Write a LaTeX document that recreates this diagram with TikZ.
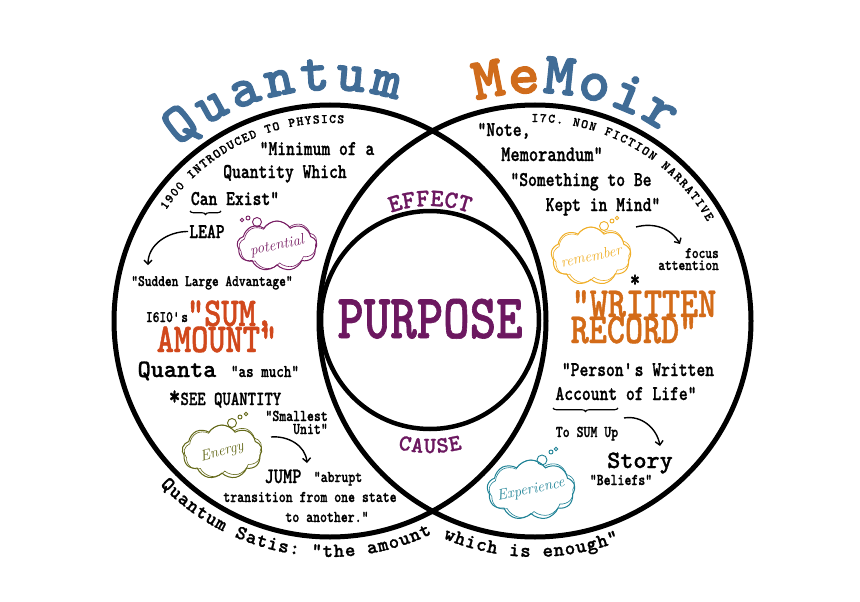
\documentclass[tikz,border=0pt]{standalone}
\usepackage{fontspec}
\usetikzlibrary{shapes.symbols,decorations.text,decorations.pathreplacing,arrows.meta}
\newfontfamily\twA{lmmonolt10-bold.otf}[FakeStretch=0.8, FakeBold=1]
\newfontfamily\twN{lmmonolt10-bold.otf}[FakeBold=1]
\newfontfamily\twT{lmmonolt10-bold.otf}[FakeBold=2]
\newcommand\setfs[1]{\fontsize{#1}{#1}\selectfont}
\newcommand\fbody{\twA\setfs{21}}
\newcommand\fsmall{\twA\setfs{16.5}}
\newcommand\fhand{\itshape\setfs{15}}
\definecolor{qblue}{RGB}{64,108,150}
\definecolor{morange}{RGB}{208,108,28}
\definecolor{purp}{RGB}{108,24,96}
\definecolor{sumred}{RGB}{209,72,28}
\definecolor{recor}{RGB}{211,107,24}
\definecolor{potcol}{RGB}{120,30,100}
\definecolor{enecol}{RGB}{100,105,25}
\definecolor{remcol}{RGB}{240,175,40}
\definecolor{expcol}{RGB}{30,130,150}
\begin{document}
\begin{tikzpicture}[x=1pt,y=1pt,
  txt/.style={inner sep=1pt, anchor=base},
  txtr/.style={inner sep=1pt, anchor=base east},
  bigc/.style={circle, draw, line width=5pt, inner sep=0pt, outer sep=0pt},
  cloudy/.style={cloud, draw=#1, cloud puffs=9, cloud puff arc=115, cloud ignores aspect, inner sep=0pt, line width=1pt},
  bub/.style={circle, draw=#1, line width=0.9pt, inner sep=0pt},
  arr/.style={line width=1.4pt, -{Straight Barb[length=4pt,width=8pt]}},
  brc/.style={line width=1.1pt, decorate, decoration={brace, mirror, amplitude=3.5pt}},
  arctext/.style={decorate, decoration={text along path, text={#1}, text align={fit to path}}}
  ]
\fill[white] (0,0) rectangle (860,-602);
\useasboundingbox (0,0) rectangle (860,-602);

% circles
\node[bigc, minimum size=432pt] (lc) at (330,-321) {};
\node[bigc, minimum size=432pt] (rc) at (535,-321) {};
\node[bigc, line width=4.5pt, minimum size=218pt] (ic) at (430,-320) {};

% titles
\path[arctext={|\twT\setfs{56}\color{qblue}|Quantum}]
  ([shift={(131:231)}]330,-321) arc[start angle=131, end angle=73, radius=231];
\path[arctext={|\twT\setfs{60}\color{morange}|Me|\twT\setfs{60}\color{qblue}|Moir}]
  ([shift={(105:228)}]535,-321) arc[start angle=105, end angle=55, radius=228];

% arc texts inside
\path[arctext={|\twN\setfs{13}|1900 INTRODUCED TO PHYSICS}]
  ([shift={(146:198)}]330,-321) arc[start angle=146, end angle=86, radius=198];
\path[arctext={|\twN\setfs{13}|I7C. NON FICTION NARRATIVE}]
  ([shift={(91:199)}]535,-321) arc[start angle=91, end angle=30, radius=199];
\path[arctext={|\twN\setfs{20}|Quantum Satis: "the amount which is enough"}]
  ([shift={(224:236)}]330,-321) arc[start angle=224, end angle=295.74, radius=236]
  arc[start angle=244.26, end angle=291, radius=236];

% middle
\path[arctext={|\twN\setfs{25}\color{purp}|EFFECT}]
  ([shift={(110:114)}]430,-320) arc[start angle=110, end angle=70, radius=114];
\path[arctext={|\twN\setfs{23}\color{purp}|CAUSE}]
  ([shift={(256:133)}]430,-320) arc[start angle=256, end angle=284, radius=133];
\node[txt, font=\twA\setfs{63}, text=purp] (purpose) at (430,-338) {PURPOSE};

% left circle texts
\node[txt, font=\fbody] (minimum) at (317,-155) {"Minimum of a};
\node[txt, font=\fbody] (quantity) at (285,-178) {Quantity Which};
\node[txt, font=\fbody] (canexist) at (235,-205) {Can Exist"};
\draw[brc] (190,-211) -- (221,-211);
\node[txt, font=\fbody] (leap) at (207,-238) {LEAP};
\coordinate (a1e) at (148,-265);
\draw[arr] (leap.west) to[out=180,in=90] (a1e);
\node[txt, font=\twA\setfs{16}] (sudden) at (212,-286) {"Sudden Large Advantage"};
\node[txt, font=\twA\setfs{16}] (year) at (167,-322) {I6I0\textquotesingle s};
\node[txt, font=\twA\setfs{41}, text=sumred] (sum) at (230,-326) {"SUM,};
\node[txt, font=\twA\setfs{41}, text=sumred] (amount) at (217,-352) {AMOUNT"};
\node[txt, font=\twN\setfs{25}] (quanta) at (177,-377) {Quanta};
\node[txt, font=\twA\setfs{18}] (asmuch) at (265,-377) {"as much"};
\node[txt, font=\twA\setfs{20}] (see) at (225,-405) {{\setfs{28}*}SEE QUANTITY};
\node[txtr, font=\fsmall] (smallest) at (329,-421) {"Smallest};
\node[txtr, font=\fsmall] (unit) at (329,-434) {Unit"};
\coordinate (a2s) at (271,-437);
\coordinate (a2e) at (307,-463);
\draw[arr] (a2s) to[out=5,in=95] (a2e);
\node[txt, font=\twA\setfs{22}] (jump) at (283,-483) {JUMP};
\node[txt, font=\fsmall] (abrupt) at (338,-482) {"abrupt};
\node[txt, font=\fsmall] (transition) at (310,-502) {transition from one state};
\node[txt, font=\fsmall] (another) at (327,-522) {to another."};

% right circle texts
\node[txt, font=\fbody] (note) at (504,-136) {"Note,};
\node[txt, font=\twA\setfs{22}] (memo) at (552,-161) {Memorandum"};
\node[txt, font=\fbody] (something) at (581,-186) {"Something to Be};
\node[txt, font=\fbody] (kept) at (603,-211) {Kept in Mind"};
\coordinate (a3s) at (636,-227);
\coordinate (a3e) at (680,-244);
\draw[arr] (a3s) to[out=15,in=120] (a3e);
\node[txtr, font=\twA\setfs{16}] (focus) at (720,-258) {focus};
\node[txtr, font=\twA\setfs{16}] (attention) at (720,-270) {attention};
\node[txt, font=\twA\setfs{24}, inner sep=0pt] (star) at (635,-287) {*};
\node[txt, font=\twA\setfs{43}, text=recor] (written) at (644,-317) {"WRITTEN};
\node[txt, font=\twA\setfs{43}, text=recor] (record) at (634,-343) {RECORD"};
\node[txt, font=\fbody] (person) at (638,-376) {"Person\textquotesingle s Written};
\node[txt, font=\fbody] (account) at (626,-400) {Account of Life"};
\draw[brc] (553,-408) -- (618,-408);
\node[txt, font=\fsmall] (tosum) at (587,-437) {To SUM Up};
\coordinate (a4s) at (624,-418);
\coordinate (a4e) at (660,-446);
\draw[arr] (a4s) to[out=10,in=100] (a4e);
\node[txt, font=\twN\setfs{25}] (story) at (640,-468) {Story};
\node[txt, font=\fsmall] (beliefs) at (621,-485) {"Beliefs"};

% clouds
\node[cloudy=potcol, minimum width=80pt, minimum height=50pt] (pot) at (277,-246) {};
\node[cloudy=potcol, line width=0.6pt, minimum width=78pt, minimum height=48pt, rotate=5] (pot2) at (278,-245) {};
\node[bub=potcol, minimum size=9pt] (potb1) at (257,-222) {};
\node[bub=potcol, minimum size=4pt] (potb2) at (248,-218) {};
\node[bub=potcol, minimum size=3.5pt] (potb3) at (242,-220) {};
\node[font=\fhand, text=potcol, rotate=12] (pott) at (pot.center) {potential};

\node[cloudy=enecol, minimum width=80pt, minimum height=54pt] (ene) at (222,-452) {};
\node[cloudy=enecol, line width=0.6pt, minimum width=78pt, minimum height=52pt, rotate=5] (ene2) at (223,-451) {};
\node[bub=enecol, minimum size=9pt] (eneb1) at (232,-423) {};
\node[bub=enecol, minimum size=4pt] (eneb2) at (240,-417) {};
\node[bub=enecol, minimum size=3.5pt] (eneb3) at (246,-414) {};
\node[font=\fhand, text=enecol, rotate=15] (enet) at (ene.center) {Energy};

\node[cloudy=remcol, minimum width=80pt, minimum height=58pt] (rem) at (591,-256) {};
\node[cloudy=remcol, line width=0.6pt, minimum width=78pt, minimum height=56pt, rotate=5] (rem2) at (592,-255) {};
\node[bub=remcol, minimum size=9pt] (remb1) at (604,-226) {};
\node[bub=remcol, minimum size=4pt] (remb2) at (612,-221) {};
\node[bub=remcol, minimum size=3.5pt] (remb3) at (617,-218) {};
\node[font=\fhand, text=remcol, rotate=12] (remt) at (rem.center) {remember};

\node[cloudy=expcol, minimum width=88pt, minimum height=60pt] (exp) at (531,-490) {};
\node[cloudy=expcol, line width=0.6pt, minimum width=86pt, minimum height=58pt, rotate=5] (exp2) at (532,-489) {};
\node[bub=expcol, minimum size=10pt] (expb1) at (542,-460) {};
\node[bub=expcol, minimum size=4pt] (expb2) at (551,-452) {};
\node[bub=expcol, minimum size=3.5pt] (expb3) at (556,-449) {};
\node[font=\fhand, text=expcol, rotate=12] (expt) at (exp.center) {Experience};
\end{tikzpicture}
\end{document}
